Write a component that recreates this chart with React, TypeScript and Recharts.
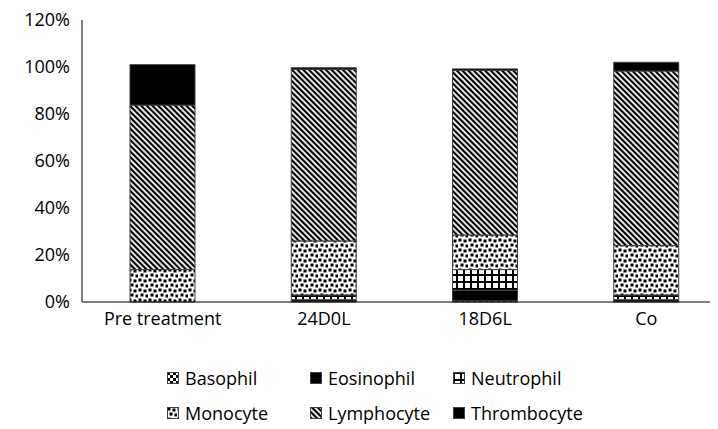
import { BarChart, Bar, XAxis, YAxis } from 'recharts';

const categories = ['Pre treatment', '24D0L', '18D6L', 'Co'];

// stacked bottom -> top, percent of cells
const basophil = [0, 0.3, 0.5, 0.3];
const eosinophil = [0, 0.7, 4.5, 0.7];
const neutrophil = [0, 2, 8.8, 2];
const monocyte = [13.8, 23, 14.7, 21];
const lymphocyte = [70, 73, 70, 74.3];
const thrombocyte = [17.2, 0.7, 0.7, 3.7];

const yTicks = [0, 20, 40, 60, 80, 100, 120];

const series = [
  { key: 'Basophil', values: basophil, fill: 'url(#pat-baso)' },
  { key: 'Eosinophil', values: eosinophil, fill: '#000000' },
  { key: 'Neutrophil', values: neutrophil, fill: 'url(#pat-neut)' },
  { key: 'Monocyte', values: monocyte, fill: 'url(#pat-mono)' },
  { key: 'Lymphocyte', values: lymphocyte, fill: 'url(#pat-lymph)' },
  { key: 'Thrombocyte', values: thrombocyte, fill: '#000000' },
];

const data = categories.map((name, i) => {
  const row: Record<string, string | number> = { name };
  series.forEach((s) => {
    row[s.key] = s.values[i];
  });
  return row;
});

// legend is laid out in two rows of three like the original
const legendRows = [
  ['Basophil', 'Eosinophil', 'Neutrophil'],
  ['Monocyte', 'Lymphocyte', 'Thrombocyte'],
];

const FONT = '"Open Sans", "Liberation Sans", sans-serif';

function Patterns() {
  return (
    <svg width={0} height={0} style={{ position: 'absolute' }}>
      <defs>
        <pattern id="pat-mono" width={10} height={10} patternUnits="userSpaceOnUse">
          <rect width={10} height={10} fill="#fff" />
          <rect x={0.5} y={0.5} width={3} height={3} fill="#000" />
          <rect x={5.5} y={1.5} width={3} height={3} fill="#000" />
          <rect x={2.5} y={5.5} width={3} height={3} fill="#000" />
          <rect x={7.5} y={6.5} width={2.5} height={3} fill="#000" />
        </pattern>
        <pattern
          id="pat-lymph"
          width={4}
          height={4}
          patternUnits="userSpaceOnUse"
          patternTransform="rotate(-45)"
        >
          <rect width={4} height={4} fill="#fff" />
          <rect width={2.2} height={4} fill="#000" />
        </pattern>
        <pattern id="pat-neut" width={7} height={7} patternUnits="userSpaceOnUse">
          <rect width={7} height={7} fill="#fff" />
          <rect x={0} y={0} width={2} height={7} fill="#000" />
          <rect x={0} y={0} width={7} height={2} fill="#000" />
        </pattern>
        <pattern id="pat-baso" width={6} height={6} patternUnits="userSpaceOnUse">
          <rect width={6} height={6} fill="#fff" />
          <rect x={0} y={0} width={3} height={3} fill="#000" />
          <rect x={3} y={3} width={3} height={3} fill="#000" />
        </pattern>
      </defs>
    </svg>
  );
}

export default function App() {
  return (
    <div style={{ position: 'relative', width: 710, height: 421, fontFamily: FONT }}>
      <Patterns />
      <BarChart
        width={710}
        height={421}
        data={data}
        margin={{ top: 12, right: -9, bottom: 97, left: 0 }}
        barSize={65}
      >
        <YAxis
          width={74}
          domain={[0, 120]}
          ticks={yTicks}
          tickFormatter={(v) => `${v}%`}
          axisLine={{ stroke: '#000', strokeWidth: 1 }}
          tickLine={false}
          tickSize={0}
          tickMargin={12}
          tick={{ fill: '#000', fontSize: 18, fontFamily: FONT }}
          interval={0}
        />
        <XAxis
          dataKey="name"
          height={30}
          axisLine={{ stroke: '#000', strokeWidth: 1 }}
          tickLine={false}
          tickSize={0}
          tickMargin={10}
          tick={{ fill: '#000', fontSize: 18, fontFamily: FONT }}
          interval={0}
        />
        {series.map((s) => (
          <Bar
            key={s.key}
            dataKey={s.key}
            stackId="cells"
            fill={s.fill}
            stroke="#404040"
            strokeWidth={1}
            isAnimationActive={false}
          />
        ))}
      </BarChart>
      {legendRows.map((row, r) => (
        <div
          key={r}
          style={{ position: 'absolute', left: 159, top: 358 + r * 35, height: 24, width: 500 }}
        >
          {row.map((name, c) => {
            const s = series.find((x) => x.key === name)!;
            return (
              <div
                key={name}
                style={{
                  position: 'absolute',
                  left: c * 143,
                  top: 0,
                  display: 'flex',
                  alignItems: 'center',
                  fontSize: 18,
                  color: '#000',
                  whiteSpace: 'nowrap',
                }}
              >
                <svg width={12} height={12} style={{ marginRight: 6 }}>
                  <rect x={0.5} y={0.5} width={11} height={11} fill={s.fill} stroke="#404040" strokeWidth={1} />
                </svg>
                {name}
              </div>
            );
          })}
        </div>
      ))}
    </div>
  );
}
